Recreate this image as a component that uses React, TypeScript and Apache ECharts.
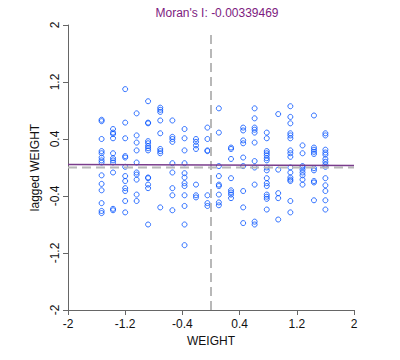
import React, { useEffect, useRef } from "react";
import * as echarts from "echarts";

const titleText = "Moran's I: -0.00339469";
const moranI = -0.00339469;
const regIntercept = 0.035;
const tickLabels = ["-2", "-1.2", "-0.4", "0.4", "1.2", "2"];

const weightCols = [-1.53, -1.37, -1.2, -1.04, -0.88, -0.71, -0.54, -0.37, -0.21, -0.05, 0.11, 0.28, 0.45, 0.61, 0.78, 0.94, 1.11, 1.28, 1.44, 1.6];

const laggedByCol = [
  [0.67, 0.65, 0.4, 0.23, 0.2, 0.14, 0.1, 0.07, -0.11, -0.23, -0.32, -0.5, -0.61, -0.64],
  [0.54, 0.49, 0.47, 0.41, 0.2, 0.13, 0.1, 0.07, -0.07, -0.58, -0.6],
  [1.1, 0.63, 0.41, 0.16, 0.14, 0.01, -0.12, -0.19, -0.29, -0.33, -0.47, -0.63],
  [0.76, 0.45, 0.35, 0.24, 0.07, -0.07, -0.1, -0.17, -0.38, -0.47],
  [0.93, 0.63, 0.62, 0.37, 0.34, 0.3, 0.27, 0.24, -0.14, -0.15, -0.24, -0.29, -0.8],
  [0.84, 0.81, 0.78, 0.66, 0.48, 0.26, 0.23, 0.2, -0.56],
  [0.66, 0.43, 0.4, 0.36, 0.06, -0.07, -0.29, -0.39, -0.6],
  [0.54, 0.41, 0.24, 0.06, -0.08, -0.14, -0.22, -0.26, -0.39, -0.54, -0.8, -1.09],
  [0.4, 0.36, 0.31, 0.26, -0.24, -0.39, -0.42],
  [0.56, 0.4, 0.24, 0.23, -0.39, -0.5, -0.54],
  [0.83, 0.49, 0.02, -0.12, -0.24, -0.26, -0.38, -0.49, -0.53],
  [0.28, 0.26, 0.12, -0.15, -0.32, -0.35, -0.38, -0.43],
  [0.56, 0.52, 0.38, 0.34, 0.14, 0.02, -0.33, -0.56, -0.78],
  [0.83, 0.69, 0.56, 0.53, 0.49, 0.35, 0.09, 0.0, -0.24, -0.76, -0.8],
  [0.49, 0.41, 0.23, 0.2, 0.17, 0.13, 0.1, 0.0, -0.04, -0.15, -0.22, -0.26, -0.38, -0.41, -0.44, -0.59],
  [0.75, -0.03, -0.36, -0.43, -0.73],
  [0.86, 0.71, 0.62, 0.48, 0.45, 0.41, 0.24, 0.2, 0.15, 0.0, -0.07, -0.14, -0.17, -0.19, -0.47, -0.63],
  [0.31, 0.2, 0.02, 0.0, -0.03, -0.07, -0.11, -0.17, -0.24],
  [0.73, 0.28, 0.25, 0.22, 0.19, -0.01, -0.04, -0.19, -0.21, -0.46],
  [0.48, 0.45, 0.25, 0.21, 0.18, 0.12, 0.08, 0.04, 0.01, -0.15, -0.25, -0.33, -0.46, -0.59],
];

const FONT = "Liberation Sans";

export default function App() {
  const ref = useRef<HTMLDivElement>(null);
  useEffect(() => {
    if (!ref.current) return;
    const chart = echarts.init(ref.current, null, { renderer: "svg" });
    const points: number[][] = [];
    weightCols.forEach((x, i) => {
      laggedByCol[i].forEach((y) => points.push([x, y]));
    });
    const fmt = (v: number) => String(Math.round(v * 10) / 10);
    const axisCommon = {
      type: "value" as const,
      min: -2,
      max: 2,
      interval: 0.8,
      splitLine: { show: false },
      axisLine: { show: true, onZero: false, lineStyle: { color: "#666", width: 1 } },
      axisTick: { show: true, length: 5, lineStyle: { color: "#666", width: 1 } },
      nameLocation: "middle" as const,
      nameTextStyle: { fontFamily: FONT, fontSize: 12, color: "#111" },
    };
    chart.setOption({
      animation: false,
      backgroundColor: "#fff",
      title: {
        text: titleText,
        left: 212,
        top: 2,
        textAlign: "center",
        textStyle: { fontFamily: FONT, fontSize: 12, fontWeight: "normal", color: "#7d1a80" },
      },
      grid: { left: 68, right: 46, top: 25, bottom: 50 },
      xAxis: {
        ...axisCommon,
        name: "WEIGHT",
        nameGap: 25,
        axisLabel: { fontFamily: FONT, fontSize: 12, color: "#111", margin: 8, formatter: fmt, showMinLabel: true, showMaxLabel: true },
      },
      yAxis: {
        ...axisCommon,
        name: "lagged WEIGHT",
        nameGap: 27,
        axisLabel: { fontFamily: FONT, fontSize: 12, color: "#111", margin: 7, rotate: 90, formatter: fmt, showMinLabel: true, showMaxLabel: true },
      },
      series: [
        {
          type: "line",
          data: [[0, -2], [0, 1.93]],
          symbol: "none",
          lineStyle: { color: "#b8b8b8", width: 2, type: [9, 5] },
          silent: true,
        },
        {
          type: "line",
          data: [[-2, 0], [2, 0]],
          symbol: "none",
          lineStyle: { color: "#b8b8b8", width: 2, type: [9, 5] },
          silent: true,
        },
        {
          type: "scatter",
          data: points,
          symbol: "circle",
          symbolSize: 5,
          itemStyle: { color: "transparent", borderColor: "#0050ff", borderWidth: 1 },
        },
        {
          type: "line",
          data: [[-2, regIntercept + moranI * -2], [2, regIntercept + moranI * 2]],
          symbol: "none",
          lineStyle: { color: "#7a3d8c", width: 1.3 },
          silent: true,
        },
      ],
    });
    return () => chart.dispose();
  }, []);
  return <div ref={ref} style={{ position: "fixed", left: 0, top: 0, width: 400, height: 360 }} />;
}
